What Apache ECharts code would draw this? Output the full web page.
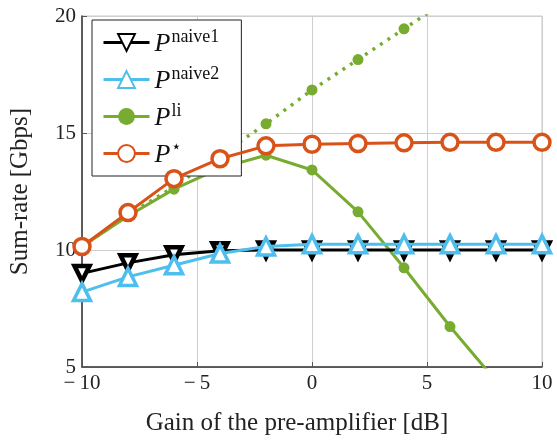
<!DOCTYPE html>
<html>
<head>
<meta charset="utf-8">
<script src="https://cdn.jsdelivr.net/npm/echarts@6/dist/echarts.min.js"></script>
<style>
  html, body { margin: 0; padding: 0; background: #fff; }
  #chart { width: 557px; height: 441px; }
</style>
</head>
<body>
<div id="chart"></div>
<script>
// gain of the pre-amplifier [dB]
const gains = [-10, -8, -6, -4, -2, 0, 2, 4, 6, 8, 10]

// sum-rate [Gbps]
const naive1 = [9.0, 9.45, 9.8, 9.97, 10.0, 10.0, 10.0, 10.0, 10.0, 10.0, 10.0]
const naive2 = [8.2, 8.85, 9.35, 9.85, 10.15, 10.25, 10.25, 10.25, 10.25, 10.25, 10.25]
const liSolid = [10.15, 11.45, 12.6, 13.5, 14.05, 13.42, 11.63, 9.24, 6.73, 4.4, null]
const liDotted = [10.15, 11.5, 12.7, 14.05, 15.39, 16.84, 18.14, 19.45, 20.75, null, null]
const pStar = [10.15, 11.6, 13.05, 13.9, 14.45, 14.52, 14.55, 14.58, 14.6, 14.6, 14.6]

const xTicks = [-10, -5, 0, 5, 10]
const yTicks = [5, 10, 15, 20]

const serif = '"Liberation Serif", "DejaVu Serif", serif'

const pairs = arr => gains.map((g, i) => [g, arr[i]])

const chart = echarts.init(document.getElementById('chart'))

const legendNames = {
  naive1: '{p|P}{s|naive1}',
  naive2: '{p|P}{s|naive2}',
  li: '{p|P}{s|li}',
  star: '{p|P}{st|⋆}'
}

const option = {
  animation: false,
  backgroundColor: '#fff',
  grid: {
    left: 82,
    right: 15,
    top: 16,
    bottom: 70,
    show: true,
    borderColor: '#c8c8c8',
    borderWidth: 1
  },
  legend: {
    orient: 'vertical',
    left: 92,
    top: 20,
    padding: [8, 22, 8, 10],
    itemGap: 8,
    itemWidth: 46,
    itemHeight: 21,
    backgroundColor: '#fff',
    borderColor: '#222',
    borderWidth: 1,
    data: ['naive1', 'naive2', 'li', 'star'],
    formatter: name => legendNames[name],
    lineStyle: { width: 3 },
    textStyle: {
      fontFamily: serif,
      color: '#111',
      rich: {
        p: { fontSize: 26, fontStyle: 'italic', fontFamily: serif, lineHeight: 29, verticalAlign: 'bottom' },
        s: { fontSize: 18, fontFamily: serif, verticalAlign: 'top', lineHeight: 29, padding: [0, 0, 0, 1] },
        st: { fontSize: 17, fontFamily: serif, verticalAlign: 'top', lineHeight: 26, padding: [0, 0, 0, 1] }
      }
    }
  },
  xAxis: {
    type: 'value',
    min: -10,
    max: 10,
    interval: 5,
    name: 'Gain of the pre-amplifier [dB]',
    nameLocation: 'middle',
    nameGap: 44,
    nameTextStyle: { fontFamily: serif, fontSize: 25, color: '#222', padding: [0, 30, 0, 0] },
    axisLine: { show: true, onZero: false, lineStyle: { color: '#333', width: 1.5 } },
    axisTick: { show: true, inside: true, length: 5, lineStyle: { color: '#555' } },
    axisLabel: {
      fontFamily: serif,
      fontSize: 21,
      color: '#222',
      margin: 6,
      formatter: v => xTicks.includes(v) ? String(v).replace('-', '\u2212\u2009') : ''
    },
    splitLine: { show: true, lineStyle: { color: '#cfcfcf', width: 1 } }
  },
  yAxis: {
    type: 'value',
    min: 5,
    max: 20,
    interval: 5,
    name: 'Sum-rate [Gbps]',
    nameLocation: 'middle',
    nameRotate: 90,
    nameGap: 49,
    nameTextStyle: { fontFamily: serif, fontSize: 25, color: '#222' },
    axisLine: { show: true, onZero: false, lineStyle: { color: '#333', width: 1.5 } },
    axisTick: { show: true, inside: true, length: 5, lineStyle: { color: '#555' } },
    axisLabel: {
      fontFamily: serif,
      fontSize: 21,
      color: '#222',
      margin: 6,
      formatter: v => yTicks.includes(v) ? String(v) : ''
    },
    splitLine: { show: true, lineStyle: { color: '#cfcfcf', width: 1 } }
  },
  series: [
    {
      name: 'li-dotted',
      type: 'line',
      data: pairs(liDotted),
      clip: true,
      symbol: 'circle',
      symbolSize: 11,
      lineStyle: { color: '#77ac30', width: 3.5, type: [3, 6], cap: 'butt' },
      itemStyle: { color: '#77ac30' },
      z: 2
    },
    {
      name: 'li',
      type: 'line',
      data: pairs(liSolid),
      clip: true,
      symbol: 'circle',
      symbolSize: 11,
      lineStyle: { color: '#77ac30', width: 3 },
      itemStyle: { color: '#77ac30' },
      z: 3
    },
    {
      name: 'naive1',
      type: 'line',
      data: pairs(naive1),
      clip: true,
      symbol: 'triangle',
      symbolRotate: 180,
      symbolSize: 15,
      lineStyle: { color: '#000', width: 3 },
      itemStyle: { color: '#fff', borderColor: '#000', borderWidth: 4.5 },
      z: 4
    },
    {
      name: 'naive2',
      type: 'line',
      data: pairs(naive2),
      clip: true,
      symbol: 'triangle',
      symbolSize: 17,
      lineStyle: { color: '#4dbeee', width: 3 },
      itemStyle: { color: '#fff', borderColor: '#4dbeee', borderWidth: 3.5 },
      z: 5
    },
    {
      name: 'star',
      type: 'line',
      data: pairs(pStar),
      clip: true,
      symbol: 'circle',
      symbolSize: 16,
      lineStyle: { color: '#d95319', width: 3 },
      itemStyle: { color: '#fff', borderColor: '#d95319', borderWidth: 3.5 },
      z: 6
    }
  ]
}

chart.setOption(option)
</script>
</body>
</html>
